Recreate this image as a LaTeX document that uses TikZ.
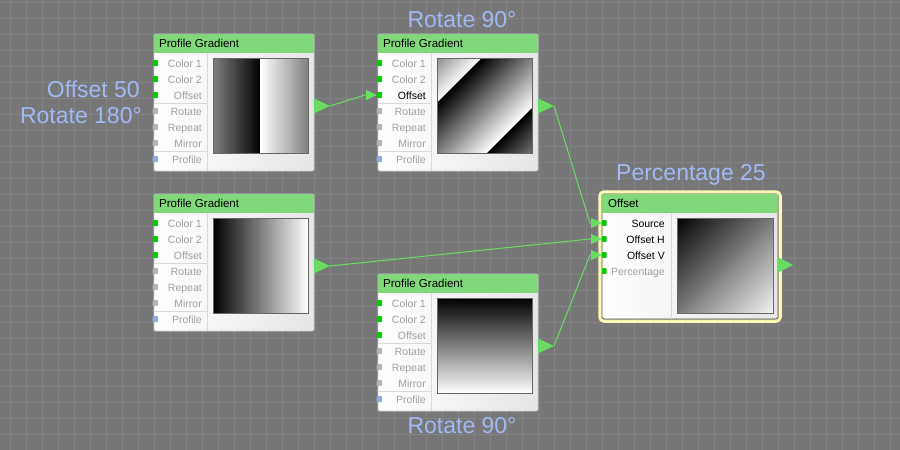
\documentclass[tikz,border=0pt]{standalone}
\usepackage{fontspec}
\setmainfont{Liberation Sans}
\usetikzlibrary{arrows.meta,calc}

\definecolor{bggray}{RGB}{119,119,119}
\definecolor{gridgray}{RGB}{131,131,131}
\definecolor{headgreen}{RGB}{128,216,122}
\definecolor{wiregreen}{RGB}{104,220,98}
\definecolor{portgreen}{RGB}{0,204,0}
\definecolor{portgray}{RGB}{184,178,170}
\definecolor{portblue}{RGB}{136,170,236}
\definecolor{labelgray}{RGB}{160,160,160}
\definecolor{noteblue}{RGB}{160,184,244}
\definecolor{glowyellow}{RGB}{252,248,182}

\tikzset{
  nodebody/.style={draw=black!20, line width=0.8pt, left color=white, right color=black!10,
    rounded corners=1.5pt, inner sep=0pt, outer sep=0pt, anchor=north west},
  headtext/.style={font=\fontsize{11.5}{13}\selectfont, inner sep=0pt, anchor=base west},
  portlabel/.style={font=\fontsize{10.5}{12}\selectfont, inner sep=0pt, anchor=base east},
  portdot/.style={rounded corners=1pt},
  sepline/.style={draw=black!15, line width=0.8pt},
  prevframe/.style={draw=black!60, line width=0.8pt},
  wire/.style={wiregreen, line width=1pt, -{Triangle[length=11pt,width=10pt]}},
  note/.style={font=\fontsize{23}{26}\selectfont, text=noteblue, inner sep=0pt},
}

% profile gradient block: #1 name, (#2,#3) top left corner, #4 wired row (0 = none)
\newcommand{\profgrad}[4]{%
  \begin{scope}[shift={(#2,#3)}]
    \node[nodebody, minimum width=160pt, minimum height=137pt] (#1) at (0,0) {};
    \fill[headgreen] (0.4,0.4) rectangle (159.6,19);
    \node[headtext] (#1-head) at (5,13.4) {Profile Gradient};
    \draw[sepline] (53,19) -- (53,137);
    \draw[sepline] (0,69) -- (53,69) (0,117) -- (53,117);
    \foreach \lab/\col [count=\i] in {Color 1/portgreen,Color 2/portgreen,Offset/portgreen,
        Rotate/portgray,Repeat/portgray,Mirror/portgray,Profile/portblue}{
      \ifnum\i=#4 \def\txt{black}\else\def\txt{labelgray}\fi
      \fill[\col, portdot] (-1.5,13+16*\i-3) rectangle (4,13+16*\i+3);
      \node[portlabel, text=\txt] (#1-l\i) at (48,13+16*\i+4) {\lab};
      \coordinate (#1-p\i) at (-1,13+16*\i);
    }
    \fill[wiregreen] (160,64.5) -- (176,72) -- (160,79.5) -- cycle;
    \coordinate (#1-out) at (176,72);
    \coordinate (#1-a) at (59,24);
    \coordinate (#1-b) at (154,119);
    \coordinate (#1-c) at (106.5,71.5);
  \end{scope}
}

\begin{document}
\begin{tikzpicture}[x=1pt, y=-1pt]
  \useasboundingbox (0,0) rectangle (900,450);
  % ── Grid background ──
  \fill[bggray] (0,0) rectangle (900,450);
  \foreach \gx in {10.7,26.7,...,900} \draw[gridgray, line width=1pt] (\gx,0) -- (\gx,450);
  \foreach \gy in {2.7,18.7,...,450} \draw[gridgray, line width=1pt] (0,\gy) -- (900,\gy);
  %
  % ── Profile gradient blocks ──
  \profgrad{pg1}{154}{34}{0}
  \profgrad{pg2}{378}{34}{3}
  \profgrad{pg3}{154}{194}{0}
  \profgrad{pg4}{378}{274}{0}
  %
  % ── Offset block (selected) ──
  \draw[glowyellow, line width=3.5pt, rounded corners=4pt] (600,192) rectangle (780,321);
  \begin{scope}[shift={(602,194)}]
    \node[nodebody, draw=black!70, minimum width=176pt, minimum height=125pt] (off) at (0,0) {};
    \fill[headgreen] (0.4,0.4) rectangle (175.6,19);
    \node[headtext] (off-head) at (6,13.4) {Offset};
    \draw[sepline] (69,19) -- (69,125);
    \foreach \lab/\txt [count=\i] in {Source/black,Offset H/black,Offset V/black,Percentage/labelgray}{
      \fill[portgreen, portdot] (0,13+16*\i-3) rectangle (4.5,13+16*\i+3);
      \node[portlabel, text=\txt] (off-l\i) at (63,13+16*\i+4) {\lab};
      \coordinate (off-p\i) at (0,13+16*\i);
    }
    \fill[wiregreen] (176,63.5) -- (191,71) -- (176,78.5) -- cycle;
    \coordinate (off-out) at (191,71);
    \coordinate (off-a) at (75,24);
    \coordinate (off-b) at (171,119);
    \coordinate (off-c) at (123,71.5);
  \end{scope}
  %
  % ── Previews ──
  % offset 50, rotate 180
  \shade[left color=black!50, right color=black] (pg1-a) rectangle (pg1-c |- pg1-b);
  \shade[left color=white, right color=black!50] (pg1-c |- pg1-a) rectangle (pg1-b);
  \draw[prevframe] (pg1-a) rectangle (pg1-b);
  % rotate 90, driven by pg1
  \begin{scope}
    \clip (pg2-a) rectangle (pg2-b);
    \begin{scope}[transform canvas={shift={(pg2-c)}, rotate=-45}]
      \foreach \u in {-106.1,-35.4,35.4}
        \shade[left color=black, right color=white] (\u,-80) rectangle (\u+70.7,80);
    \end{scope}
  \end{scope}
  \draw[prevframe] (pg2-a) rectangle (pg2-b);
  % plain
  \shade[left color=black, right color=white, prevframe] (pg3-a) rectangle (pg3-b);
  % rotate 90
  \shade[top color=black, bottom color=white, prevframe] (pg4-a) rectangle (pg4-b);
  % offset result
  \begin{scope}
    \clip (off-a) rectangle (off-b);
    \begin{scope}[transform canvas={shift={(off-c)}, rotate=-45}]
      \shade[left color=black, right color=black!4] (-68,-70) rectangle (68,70);
    \end{scope}
  \end{scope}
  \draw[prevframe] (off-a) rectangle (off-b);
  %
  % ── Wires ──
  \draw[wire] (pg1-out) -- ([xshift=-12pt]pg2-p3) -- (pg2-p3);
  \draw[wire] (pg2-out) -- ([xshift=-12pt]off-p1) -- (off-p1);
  \draw[wire] (pg3-out) -- ([xshift=-12pt]off-p2) -- (off-p2);
  \draw[wire] (pg4-out) -- ([xshift=-12pt]off-p3) -- (off-p3);
  %
  % ── Settings notes ──
  \node[note, anchor=base east] (n1) at (140,97) {Offset 50};
  \node[note, anchor=base east] (n2) at (142,123) {Rotate 180°};
  \node[note, anchor=base] (n3) at (462,27) {Rotate 90°};
  \node[note, anchor=base] (n4) at (691,180) {Percentage 25};
  \node[note, anchor=base] (n5) at (462,433) {Rotate 90°};
\end{tikzpicture}
\end{document}
